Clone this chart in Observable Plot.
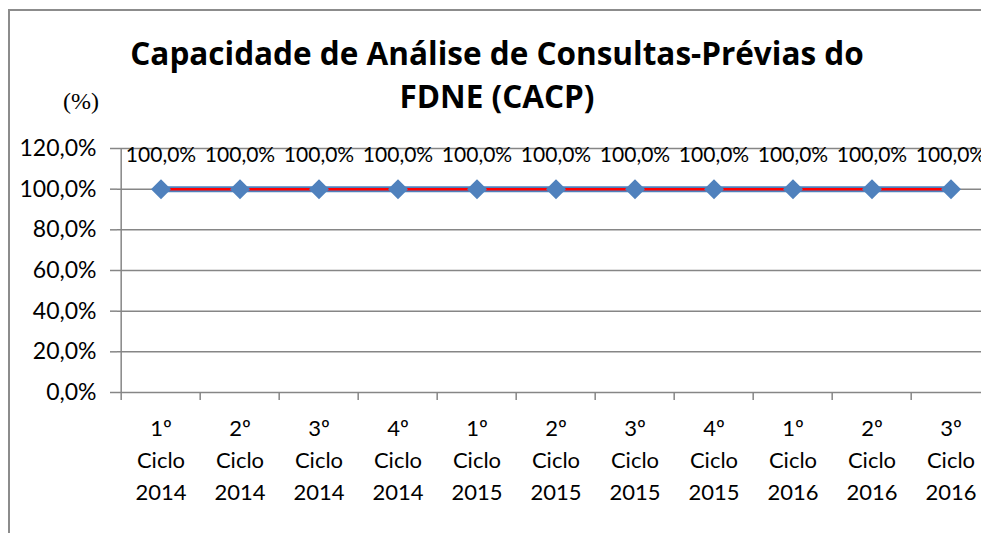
<!DOCTYPE html>
<html><head><meta charset="utf-8">
<script src="https://cdn.jsdelivr.net/npm/d3@7"></script>
<script src="https://cdn.jsdelivr.net/npm/@observablehq/plot@0.6"></script>
<style>
html,body{margin:0;padding:0;background:#fff;overflow:hidden;width:981px;height:533px;}
#wrap{position:relative;width:981px;height:533px;overflow:hidden;}
#frame{position:absolute;left:8px;top:9px;width:973px;height:524px;border-left:2px solid #8c8c8c;border-top:2px solid #8c8c8c;box-sizing:border-box;}
.title{position:absolute;left:0;width:994px;text-align:center;font-family:"Open Sans",Lato,sans-serif;font-weight:bold;font-size:31.5px;line-height:31.5px;color:#000;white-space:nowrap;}
#unit{position:absolute;left:63px;top:89px;font-family:"Liberation Serif","DejaVu Serif",serif;font-size:24px;line-height:24px;color:#000;}
#chart{position:absolute;left:0;top:0;width:981px;height:533px;overflow:hidden;}
</style></head>
<body><div id="wrap"><div id="frame"></div>
<div class="title" style="top:37px">Capacidade de Análise de Consultas-Prévias do</div>
<div class="title" style="top:80px">FDNE (CACP)</div>
<div id="unit">(%)</div>
<div id="chart"></div></div>
<script>
const categories = ["1º\nCiclo\n2014","2º\nCiclo\n2014","3º\nCiclo\n2014","4º\nCiclo\n2014","1º\nCiclo\n2015","2º\nCiclo\n2015","3º\nCiclo\n2015","4º\nCiclo\n2015","1º\nCiclo\n2016","2º\nCiclo\n2016","3º\nCiclo\n2016"];
const values = [1,1,1,1,1,1,1,1,1,1,1];
const target = [1,1,1,1,1,1,1,1,1,1,1];
const yTicks = [0,0.2,0.4,0.6,0.8,1.0,1.2];

const data = categories.map((c,i)=>({c, v: values[i], t: target[i]}));
const fmt = d => (d*100).toFixed(1).replace(".", ",") + "%";

const W = 981, H = 533, ML = 117, XEND = 993, MT = 148, MB = 141;
const bw = (XEND - ML) / categories.length;
const font = "Lato, 'Open Sans', sans-serif";
const gray = "#868686";

const plot = Plot.plot({
  width: W, height: H,
  marginLeft: ML, marginRight: 0, marginTop: MT, marginBottom: MB,
  style: {fontFamily: font, fontSize: "22px", color: "#000", background: "transparent", overflow: "hidden"},
  x: {type: "band", domain: categories, padding: 0, range: [ML, XEND], axis: null},
  y: {domain: [0, 1.2], axis: null},
  marks: [
    Plot.ruleY(yTicks, {stroke: gray, strokeWidth: 1.5, strokeOpacity: 1}),
    Plot.axisY(yTicks, {tickFormat: fmt, tickSize: 7, tickPadding: 14, stroke: gray, strokeWidth: 1.5, strokeOpacity: 1, fontSize: 23, fill: "#000", label: null}),
    Plot.ruleX([categories[0]], {x: d => d, y1: 0, y2: 1.2, dx: -bw/2, stroke: gray, strokeWidth: 1.5}),
    Plot.ruleX(categories, {x: d => d, y1: 0, y2: 0, insetBottom: -8, dx: -bw/2, stroke: gray, strokeWidth: 1.5}),
    Plot.axisX(categories, {tickSize: 0, tickPadding: 21, fontSize: 22, fill: "#000", lineHeight: 1.45, label: null, tickFormat: d => d}),
    Plot.lineY(data, {x: "c", y: "v", stroke: "#4F81BD", strokeWidth: 6}),
    Plot.lineY(data, {x: "c", y: "t", stroke: "#FF0000", strokeWidth: 2.5}),
    Plot.dot(data, {x: "c", y: "v", symbol: "square", r: 8, rotate: 45, fill: "#4F81BD", stroke: "none"}),
    Plot.text(data, {x: "c", y: "v", text: d => fmt(d.v), dy: -34, fontSize: 21, fill: "#000", fontFamily: font})
  ]
});
document.getElementById("chart").appendChild(plot);
</script></body></html>
